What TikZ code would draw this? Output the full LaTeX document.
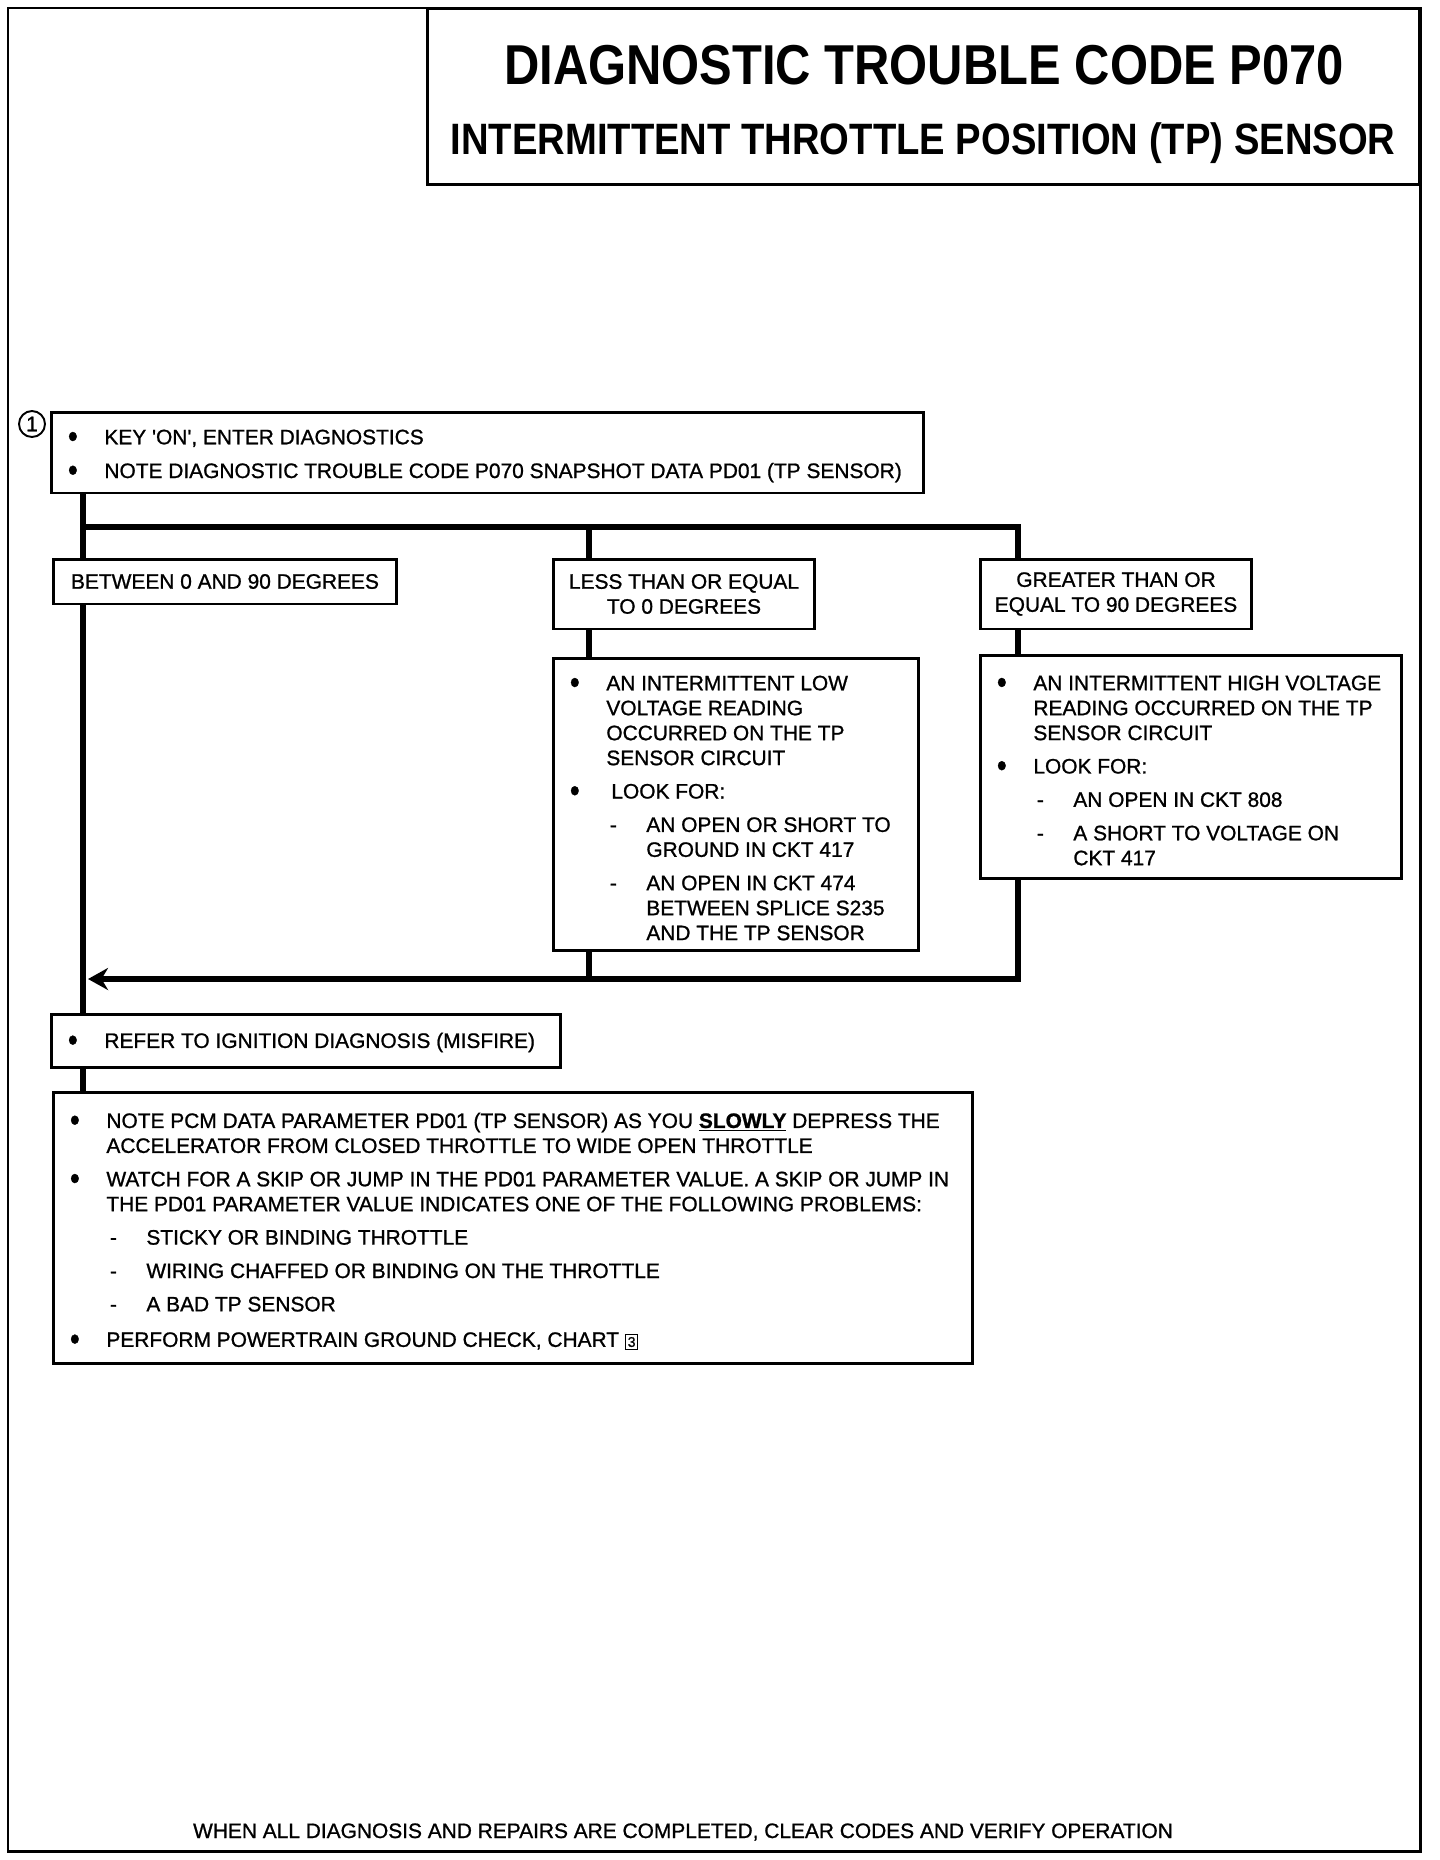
\documentclass[tikz,border=0pt]{standalone}
\usepackage{fontspec}
\setmainfont[FakeBold=1]{Liberation Sans}
\newfontfamily\ttlfont[FakeStretch=0.87]{Liberation Sans}
\usetikzlibrary{positioning,arrows.meta,backgrounds}
\setlength{\fboxsep}{1pt}
\setlength{\fboxrule}{0.6pt}

\newcommand{\bul}{\makebox[0.73cm][l]{\raisebox{-1.9pt}{\scalebox{1.35}[1.6]{\textbullet}}}}
\newcommand{\nxt}{\hspace*{0.73cm}}
\newcommand{\dsh}{\hspace*{0.8cm}\makebox[0.73cm][l]{-}}
\newcommand{\dnxt}{\hspace*{1.53cm}}
\newcommand{\chartref}[1]{\fbox{\fontsize{8}{8}\selectfont #1}}

\begin{document}
\begin{tikzpicture}[
      x=0.02cm, y=-0.02cm,
      txt/.style={font=\fontsize{11.9}{14.2}\selectfont, align=left, inner sep=0pt},
      box/.style={draw, line width=1.7pt, fill=white, inner sep=0pt},
      tag/.style={box, font=\fontsize{11.9}{14.2}\selectfont, align=center},
      wire/.style={line width=3.2pt},
      arr/.style={wire, -{Stealth[length=0.4cm, width=0.44cm]}},
      frame/.style={line width=1.7pt}
    ]
    \useasboundingbox (0,0) rectangle (1440,1860);
    \draw[frame] (8,8) rectangle (1420,1851);

    % title
    \node[box, minimum width=19.86cm, minimum height=3.54cm] (titlebox) at (923.5,96.5) {};
    \node[font=\fontsize{32}{34}\ttlfont\bfseries, anchor=base] (ttl) at (924,84) {DIAGNOSTIC TROUBLE CODE P070};
    \node[font=\fontsize{25}{27}\ttlfont\bfseries, anchor=base] (sub) at (923,154) {INTERMITTENT THROTTLE POSITION (TP) SENSOR};

    % step 1
    \node[circle, draw, line width=1.1pt, minimum size=0.52cm, inner sep=0pt,
          font=\fontsize{12}{12}\selectfont] (step1) at (32,424) {1};
    \node[box, minimum width=17.46cm, minimum height=1.62cm] (keyon) at (487.5,452.5) {};
    \node[txt, anchor=west] (keyon-t) at ([shift={(0.36cm,-0.07cm)}]keyon.west)
      {\bul KEY \textquotesingle ON\textquotesingle, ENTER DIAGNOSTICS\\[5pt]
       \bul NOTE DIAGNOSTIC TROUBLE CODE P070 SNAPSHOT DATA PD01 (TP SENSOR)};

    % branches
    \node[tag, minimum width=6.88cm, minimum height=0.9cm] (mid) at (225,581.5) {BETWEEN 0 AND 90 DEGREES};
    \node[tag, minimum width=5.24cm, minimum height=1.4cm] (lo) at (684,594) {LESS THAN OR EQUAL\\TO 0 DEGREES};
    \node[tag, minimum width=5.44cm, minimum height=1.4cm] (hi) at (1116,594) {GREATER THAN OR\\EQUAL TO 90 DEGREES};

    \node[box, minimum width=7.32cm, minimum height=5.86cm] (lodet) at (736,804.5) {};
    \node[txt, anchor=west] (lodet-t) at ([shift={(0.36cm,-0.07cm)}]lodet.west)
      {\bul AN INTERMITTENT LOW\\
       \nxt VOLTAGE READING\\
       \nxt OCCURRED ON THE TP\\
       \nxt SENSOR CIRCUIT\\[4.8pt]
       \bul\hspace*{0.1cm}LOOK FOR:\\[4.8pt]
       \dsh AN OPEN OR SHORT TO\\
       \dnxt GROUND IN CKT 417\\[4.8pt]
       \dsh AN OPEN IN CKT 474\\
       \dnxt BETWEEN SPLICE S235\\
       \dnxt AND THE TP SENSOR};

    \node[box, minimum width=8.44cm, minimum height=4.48cm] (hidet) at (1191,767) {};
    \node[txt, anchor=west] (hidet-t) at ([shift={(0.36cm,-0.07cm)}]hidet.west)
      {\bul AN INTERMITTENT HIGH VOLTAGE\\
       \nxt READING OCCURRED ON THE TP\\
       \nxt SENSOR CIRCUIT\\[4.8pt]
       \bul LOOK FOR:\\[4.8pt]
       \dsh AN OPEN IN CKT 808\\[4.8pt]
       \dsh A SHORT TO VOLTAGE ON\\
       \dnxt CKT 417};

    % common path
    \node[box, minimum width=10.2cm, minimum height=1.06cm] (refer) at (306,1040.5) {};
    \node[txt, anchor=west] (refer-t) at ([shift={(0.36cm,-0.04cm)}]refer.west)
      {\bul REFER TO IGNITION DIAGNOSIS (MISFIRE)};

    \node[box, minimum width=18.4cm, minimum height=5.44cm] (check) at (513,1228) {};
    \node[txt, anchor=west] (check-t) at ([shift={(0.36cm,-0.07cm)}]check.west)
      {\bul NOTE PCM DATA PARAMETER PD01 (TP SENSOR) AS YOU \textbf{\underline{SLOWLY}} DEPRESS THE\\
       \nxt ACCELERATOR FROM CLOSED THROTTLE TO WIDE OPEN THROTTLE\\[4.8pt]
       \bul WATCH FOR A SKIP OR JUMP IN THE PD01 PARAMETER VALUE. A SKIP OR JUMP IN\\
       \nxt THE PD01 PARAMETER VALUE INDICATES ONE OF THE FOLLOWING PROBLEMS:\\[4.8pt]
       \dsh STICKY OR BINDING THROTTLE\\[4.8pt]
       \dsh WIRING CHAFFED OR BINDING ON THE THROTTLE\\[4.8pt]
       \dsh A BAD TP SENSOR\\[6pt]
       \bul PERFORM POWERTRAIN GROUND CHECK, CHART \chartref{3}};

    \node[txt, anchor=base] (foot) at (683,1838)
      {WHEN ALL DIAGNOSIS AND REPAIRS ARE COMPLETED, CLEAR CODES AND VERIFY OPERATION};

    % connectors
    \begin{scope}[on background layer]
      \coordinate (tx) at (83,527);
      \coordinate (lx) at (589,527);
      \coordinate (gx) at (1018,527);
      \coordinate (ret) at (1018,979);
      \coordinate (tip) at (88,979);
      \draw[wire] (keyon.south -| tx) -- (refer.north -| tx);
      \draw[wire] (tx) -- (gx) -- (hi.north -| gx);
      \draw[wire] (lx) -- (lo.north -| lx);
      \draw[wire] (lo.south -| lx) -- (lodet.north -| lx);
      \draw[wire] (lodet.south -| lx) -- (ret -| lx);
      \draw[wire] (hi.south -| gx) -- (hidet.north -| gx);
      \draw[arr] (hidet.south -| gx) -- (ret) -- (tip);
      \draw[wire] (refer.south -| tx) -- (check.north -| tx);
    \end{scope}
  \end{tikzpicture}
\end{document}
